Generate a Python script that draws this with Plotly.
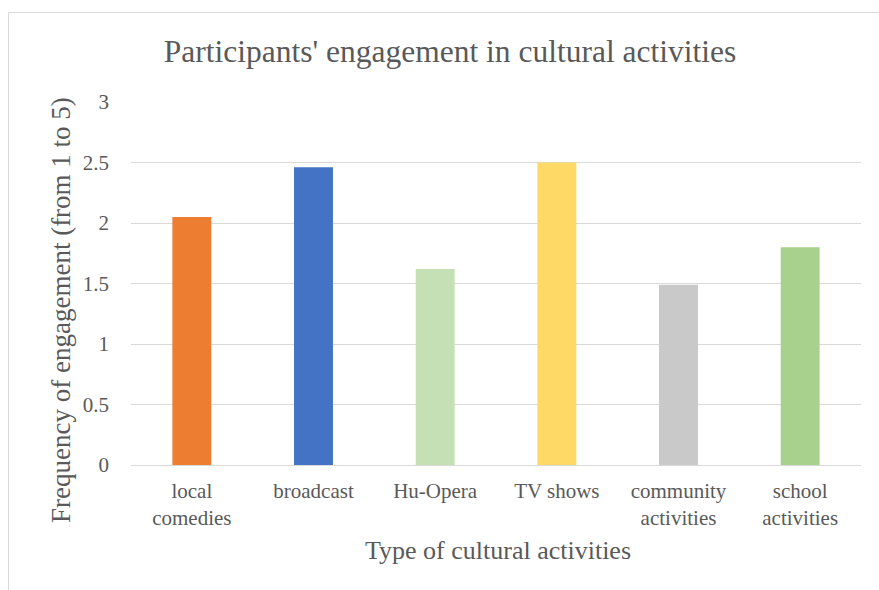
import plotly.graph_objects as go

categories = ["local<br>comedies", "broadcast", "Hu-Opera", "TV shows",
              "community<br>activities", "school<br>activities"]
values = [2.05, 2.46, 1.62, 2.50, 1.49, 1.80]
colors = ["#ED7D31", "#4472C4", "#C5E0B4", "#FFD966", "#C9C9C9", "#A9D18E"]
y_ticks = [0, 0.5, 1, 1.5, 2, 2.5, 3]
y_tick_text = ["0", "0.5", "1", "1.5", "2", "2.5", "3"]

FONT = "Liberation Serif, Times New Roman, serif"
TXT = "#595959"

W, H = 879, 590
ML, MR, MT, MB = 131, 18, 102, 125
PW, PH = W - ML - MR, H - MT - MB

fig = go.Figure(go.Bar(
    x=categories, y=values, marker=dict(color=colors, line=dict(width=0)),
    hoverinfo="x+y",
))

def px_to_paper_x(px):
    return (px - ML) / PW

def px_to_paper_y(py):
    return (H - MB - py) / PH

fig.update_layout(
    width=W, height=H,
    margin=dict(l=ML, r=MR, t=MT, b=MB),
    paper_bgcolor="white", plot_bgcolor="white",
    bargap=0.68,
    showlegend=False,
    font=dict(family=FONT, color=TXT, size=21),
    title=dict(text="Participants' engagement in cultural activities",
               font=dict(family=FONT, size=31.5, color=TXT),
               x=450 / W, xanchor="center", y=1 - 51 / H, yanchor="middle"),
    xaxis=dict(showgrid=False, zeroline=False, showline=False, ticks="",
               tickfont=dict(size=21, color=TXT), ticklabelstandoff=11),
    yaxis=dict(range=[0, 3], tickvals=y_ticks, ticktext=y_tick_text,
               showgrid=True, gridcolor="#D9D9D9", gridwidth=1.3,
               zeroline=True, zerolinecolor="#D9D9D9", zerolinewidth=1.3,
               showline=False, ticks="", ticklen=0,
               tickfont=dict(size=21, color=TXT), ticklabelstandoff=21),
    annotations=[
        dict(text="Type of cultural activities", showarrow=False,
             xref="paper", yref="paper",
             x=px_to_paper_x(497.5), y=px_to_paper_y(550),
             xanchor="center", yanchor="middle",
             font=dict(size=26, color=TXT, family=FONT)),
        dict(text="Frequency of engagement (from 1 to 5)", showarrow=False,
             xref="paper", yref="paper", textangle=-90,
             x=px_to_paper_x(61), y=px_to_paper_y(310),
             xanchor="center", yanchor="middle",
             font=dict(size=27, color=TXT, family=FONT)),
    ],
    shapes=[dict(type="rect", xref="paper", yref="paper",
                 x0=px_to_paper_x(8.5), x1=px_to_paper_x(W + 20),
                 y0=px_to_paper_y(H + 20), y1=px_to_paper_y(12.5),
                 line=dict(color="#D9D9D9", width=1), layer="below")],
)

fig.write_html("out.html")
